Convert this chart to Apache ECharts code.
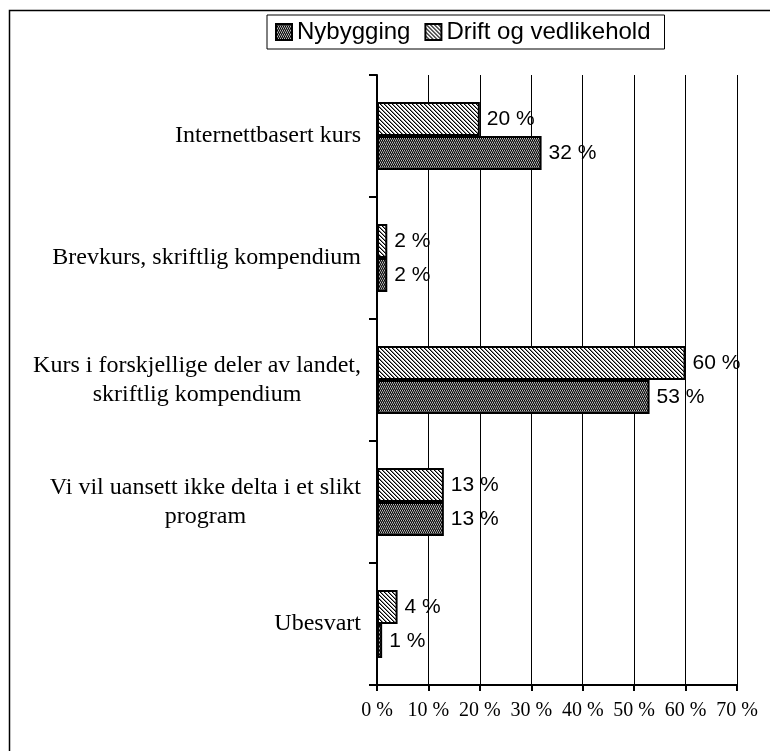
<!DOCTYPE html>
<html>
<head>
<meta charset="utf-8">
<script src="https://cdn.jsdelivr.net/npm/echarts@6/dist/echarts.min.js"></script>
<style>
    html, body { margin: 0; padding: 0; background: #fff; }
    #chart { width: 770px; height: 751px; }
</style>
</head>
<body>
<div id="chart"></div>
<script>
const categories = [
    'Internettbasert kurs',
    'Brevkurs, skriftlig kompendium',
    'Kurs i forskjellige deler av landet,\nskriftlig kompendium',
    'Vi vil uansett ikke delta i et slikt\nprogram',
    'Ubesvart'
];
const nybygging = [32, 2, 53, 13, 1];
const drift = [20, 2, 60, 13, 4];
const xTicks = [0, 10, 20, 30, 40, 50, 60, 70];

// fill patterns, drawn once on small canvases
function hatchPattern() {
    const c = document.createElement('canvas');
    c.width = 4; c.height = 4;
    const g = c.getContext('2d');
    g.fillStyle = '#fff';
    g.fillRect(0, 0, 4, 4);
    g.fillStyle = '#000';
    for (let i = 0; i < 4; i++) {
        g.fillRect(i, i, 1, 1);
    }
    g.fillStyle = '#888';
    for (let i = 0; i < 4; i++) {
        g.fillRect((i + 1) % 4, i, 1, 1);
    }
    return c.toDataURL();
}
function dotPattern() {
    const c = document.createElement('canvas');
    c.width = 4; c.height = 4;
    const g = c.getContext('2d');
    g.fillStyle = '#bbb';
    g.fillRect(0, 0, 4, 4);
    g.fillStyle = '#000';
    g.fillRect(0, 0, 1, 1); g.fillRect(2, 0, 1, 1);
    g.fillStyle = '#444';
    g.fillRect(0, 1, 4, 1);
    g.fillStyle = '#000';
    g.fillRect(1, 2, 1, 1); g.fillRect(3, 2, 1, 1);
    g.fillStyle = '#555';
    g.fillRect(0, 3, 4, 1);
    return c.toDataURL();
}

const chart = echarts.init(document.getElementById('chart'));
const labelStyle = {
    show: true,
    position: 'right',
    distance: 7,
    fontFamily: 'Liberation Sans, Arial',
    fontSize: 21,
    color: '#000',
    formatter: p => p.value + ' %'
};
const option = {
    animation: false,
    graphic: [{
        type: 'rect',
        shape: { x: 9.5, y: 10.5, width: 800, height: 800 },
        style: { fill: 'none', stroke: '#000', lineWidth: 1.5 },
        silent: true
    }],
    legend: {
        data: ['Nybygging', 'Drift og vedlikehold'],
        icon: 'rect',
        left: 267,
        top: 15,
        padding: [5, 14, 5, 8],
        itemWidth: 16,
        itemHeight: 16,
        itemGap: 14,
        borderColor: '#000',
        borderWidth: 1,
        textStyle: { fontFamily: 'Liberation Sans, Arial', fontSize: 24, color: '#000' }
    },
    grid: { left: 377, right: 33, top: 75, bottom: 66 },
    xAxis: {
        type: 'value',
        min: 0,
        max: 70,
        interval: 10,
        axisLine: { show: true, lineStyle: { color: '#000', width: 2 } },
        axisTick: { show: true, length: 6, lineStyle: { color: '#000', width: 2 } },
        splitLine: { show: true, lineStyle: { color: '#000', width: 1 } },
        axisLabel: {
            margin: 16,
            fontFamily: 'Liberation Serif, Times New Roman',
            fontSize: 20,
            color: '#000',
            formatter: v => xTicks.includes(v) ? v + ' %' : ''
        }
    },
    yAxis: {
        type: 'category',
        data: categories,
        inverse: true,
        axisLine: { show: true, lineStyle: { color: '#000', width: 2 } },
        axisTick: { show: true, length: 8, lineStyle: { color: '#000', width: 2 } },
        axisLabel: {
            margin: 16,
            color: '#000',
            align: 'right',
            formatter: v => v.split('\n').map(s => '{a|' + s + '}').join('\n'),
            rich: {
                a: {
                    fontFamily: 'Liberation Serif, Times New Roman',
                    fontSize: 24,
                    lineHeight: 29,
                    color: '#000',
                    align: 'center'
                }
            }
        }
    },
    series: [
        {
            name: 'Drift og vedlikehold',
            type: 'bar',
            data: drift,
            barWidth: 34,
            barGap: '0%',
            itemStyle: { color: { image: hatchPattern(), repeat: 'repeat' }, borderColor: '#000', borderWidth: 2 },
            label: labelStyle
        },
        {
            name: 'Nybygging',
            type: 'bar',
            data: nybygging,
            barWidth: 34,
            barGap: '0%',
            itemStyle: { color: { image: dotPattern(), repeat: 'repeat' }, borderColor: '#000', borderWidth: 2 },
            label: labelStyle
        }
    ]
};
chart.setOption(option);
</script>
</body>
</html>
